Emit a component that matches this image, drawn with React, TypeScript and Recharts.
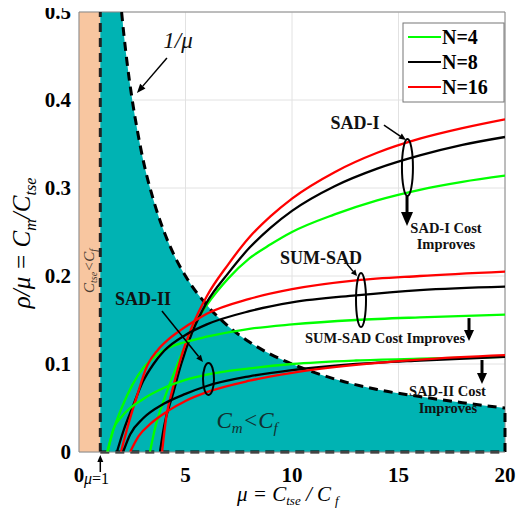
import {
  ComposedChart,
  Line,
  Area,
  XAxis,
  YAxis,
  CartesianGrid,
  ReferenceLine,
  ReferenceArea,
  ReferenceDot,
} from "recharts";

const SERIF = '"Liberation Serif", "Times New Roman", serif';
const TEAL = "#00B3B3";
const PEACH = "#F8C6A0";

// boundary of the C_m < C_f region (the 1/mu curve, clipped at the top)
const boundMu = [1, 2, 2.1, 2.25, 2.5, 2.75, 3, 3.5, 4, 4.5, 5, 6, 7, 8, 9, 10, 12, 14, 16, 18, 20];
const boundRho = [0.5, 0.5, 0.476, 0.444, 0.4, 0.364, 0.333, 0.286, 0.25, 0.222, 0.2, 0.167, 0.143, 0.125, 0.111, 0.1, 0.083, 0.071, 0.063, 0.056, 0.05];

// SAD-I
const sadIMu4 = [3.33, 3.6, 4.0, 4.5, 5, 5.5, 6, 7, 8, 9, 10, 12, 14, 16, 18, 20];
const sadIRho4 = [0, 0.03, 0.06, 0.092, 0.122, 0.148, 0.167, 0.197, 0.22, 0.236, 0.25, 0.27, 0.286, 0.298, 0.307, 0.314];
const sadIMu8 = [3.8, 4.0, 4.4, 4.8, 5.3, 6, 7, 8, 9, 10, 12, 14, 16, 18, 20];
const sadIRho8 = [0, 0.03, 0.065, 0.1, 0.135, 0.17, 0.203, 0.232, 0.255, 0.274, 0.302, 0.322, 0.337, 0.349, 0.358];
const sadIMu16 = [3.9, 4.1, 4.4, 4.8, 5.3, 6, 7, 8, 9, 10, 12, 14, 16, 18, 20];
const sadIRho16 = [0, 0.04, 0.072, 0.108, 0.142, 0.177, 0.213, 0.244, 0.268, 0.288, 0.318, 0.34, 0.356, 0.368, 0.378];

// SUM-SAD
const sumMu4 = [1.32, 1.6, 2, 2.5, 3, 3.5, 4, 5, 6, 8, 10, 13, 16, 20];
const sumRho4 = [0, 0.024, 0.05, 0.076, 0.095, 0.107, 0.116, 0.125, 0.131, 0.14, 0.145, 0.15, 0.153, 0.156];
const sumMu8 = [1.78, 2.1, 2.5, 3, 3.5, 4, 5, 6, 8, 10, 13, 16, 20];
const sumRho8 = [0, 0.025, 0.05, 0.08, 0.1, 0.115, 0.133, 0.145, 0.16, 0.17, 0.178, 0.184, 0.188];
const sumMu16 = [1.97, 2.3, 2.7, 3.2, 3.7, 4.2, 4.8, 5.5, 6, 8, 10, 13, 16, 20];
const sumRho16 = [0, 0.03, 0.062, 0.098, 0.116, 0.128, 0.139, 0.15, 0.157, 0.174, 0.185, 0.195, 0.2, 0.205];

// SAD-II
const sadIIMu4 = [1.35, 1.6, 2, 3, 4, 5, 6, 8, 10, 13, 16, 20];
const sadIIRho4 = [0, 0.025, 0.04, 0.06, 0.073, 0.082, 0.088, 0.095, 0.1, 0.104, 0.106, 0.108];
const sadIIMu8 = [2.07, 2.4, 3, 4, 5, 6, 8, 10, 13, 16, 20];
const sadIIRho8 = [0, 0.02, 0.038, 0.055, 0.066, 0.075, 0.086, 0.093, 0.1, 0.104, 0.108];
const sadIIMu16 = [2.4, 2.8, 3.4, 4.2, 5, 6, 8, 10, 13, 16, 20];
const sadIIRho16 = [0, 0.018, 0.033, 0.047, 0.058, 0.068, 0.081, 0.09, 0.099, 0.105, 0.11];

const xTicks = [0, 5, 10, 15, 20];
const yTicks = [0, 0.1, 0.2, 0.3, 0.4, 0.5];

const legendItems = [
  { name: "N=4", color: "#00FF00" },
  { name: "N=8", color: "#000000" },
  { name: "N=16", color: "#FF0000" },
];

const rows = (xs: number[], ys: number[]) => xs.map((x, i) => ({ x, y: ys[i] }));

const boundRows = rows(boundMu, boundRho);

const series = [
  { key: "sadI4", data: rows(sadIMu4, sadIRho4), color: legendItems[0].color },
  { key: "sadI8", data: rows(sadIMu8, sadIRho8), color: legendItems[1].color },
  { key: "sadI16", data: rows(sadIMu16, sadIRho16), color: legendItems[2].color },
  { key: "sum4", data: rows(sumMu4, sumRho4), color: legendItems[0].color },
  { key: "sum8", data: rows(sumMu8, sumRho8), color: legendItems[1].color },
  { key: "sum16", data: rows(sumMu16, sumRho16), color: legendItems[2].color },
  { key: "sadII4", data: rows(sadIIMu4, sadIIRho4), color: legendItems[0].color },
  { key: "sadII8", data: rows(sadIIMu8, sadIIRho8), color: legendItems[1].color },
  { key: "sadII16", data: rows(sadIIMu16, sadIIRho16), color: legendItems[2].color },
];

// annotation shapes, anchored at a data point
function label(text: string, size: number, extra: any = {}) {
  return (p: any) => (
    <text
      x={p.cx}
      y={p.cy}
      textAnchor="middle"
      dominantBaseline="central"
      fontFamily={SERIF}
      fontWeight="bold"
      fontSize={size}
      fill="#111"
      {...extra}
    >
      {text}
    </text>
  );
}

function ring(rx: number, ry: number) {
  return (p: any) => (
    <ellipse cx={p.cx} cy={p.cy} rx={rx} ry={ry} fill="none" stroke="#000" strokeWidth={2} />
  );
}

// tip at the anchor, tail offset by (dx, dy) pixels
function arrow(dx: number, dy: number, w: number, headLen: number, headW: number) {
  return (p: any) => {
    const len = Math.hypot(dx, dy);
    const ux = -dx / len;
    const uy = -dy / len;
    const bx = p.cx - ux * headLen;
    const by = p.cy - uy * headLen;
    const nx = -uy;
    const ny = ux;
    return (
      <g>
        <line x1={p.cx + dx} y1={p.cy + dy} x2={bx} y2={by} stroke="#000" strokeWidth={w} />
        <polygon
          points={`${p.cx},${p.cy} ${bx + nx * headW},${by + ny * headW} ${bx - nx * headW},${by - ny * headW}`}
          fill="#000"
        />
      </g>
    );
  };
}

const XTick = (props: any) => {
  const { x, y, payload } = props;
  if (payload.value === 0) {
    return (
      <g>
        <text x={x} y={y + 30} textAnchor="middle" fontFamily={SERIF} fontWeight="bold" fontSize={21}>
          0
        </text>
        <text x={x + 5} y={y + 32} fontFamily={SERIF} fontSize={16}>
          <tspan fontStyle="italic">μ</tspan>=1
        </text>
      </g>
    );
  }
  return (
    <text x={x} y={y + 30} textAnchor="middle" fontFamily={SERIF} fontWeight="bold" fontSize={21}>
      {payload.value}
    </text>
  );
};

const YTick = (props: any) => {
  const { x, y, payload } = props;
  return (
    <text x={x - 8} y={y + 7} textAnchor="end" fontFamily={SERIF} fontWeight="bold" fontSize={21}>
      {payload.value === 0 ? "0" : payload.value.toFixed(1)}
    </text>
  );
};

const dash = "9 6";

export default function App() {
  return (
    <div style={{ position: "relative", width: 530, height: 510, margin: "-8px 0 0 -8px" }}>
      <ComposedChart width={530} height={510} margin={{ top: 12, right: 25, bottom: 28, left: 19 }}>
        <CartesianGrid stroke="#e2e2e2" />
        <XAxis
          dataKey="x"
          type="number"
          domain={[0, 20]}
          ticks={xTicks}
          allowDataOverflow
          tickLine={false}
          tickSize={0}
          tickMargin={0}
          height={30}
          axisLine={{ stroke: "#888" }}
          tick={<XTick />}
        />
        <YAxis
          type="number"
          domain={[0, 0.5]}
          ticks={yTicks}
          allowDataOverflow
          tickLine={false}
          tickSize={0}
          tickMargin={0}
          width={60}
          axisLine={{ stroke: "#888" }}
          tick={<YTick />}
        />
        <ReferenceArea x1={0} x2={1} y1={0} y2={0.5} fill={PEACH} fillOpacity={1} stroke="none" />
        <Area
          data={boundRows}
          dataKey="y"
          type="monotone"
          fill={TEAL}
          fillOpacity={1}
          stroke="none"
          baseValue={0}
          isAnimationActive={false}
        />
        <ReferenceLine y={0.5} stroke="#888" />
        <ReferenceLine x={20} stroke="#888" />
        <Line
          data={boundRows.slice(1)}
          dataKey="y"
          type="monotone"
          stroke="#000"
          strokeWidth={3}
          strokeDasharray={dash}
          dot={false}
          isAnimationActive={false}
        />
        <ReferenceLine segment={[{ x: 1, y: 0 }, { x: 1, y: 0.5 }]} stroke="#222" strokeWidth={3} strokeDasharray={dash} />
        <ReferenceLine segment={[{ x: 1, y: 0 }, { x: 20, y: 0 }]} stroke="#000" strokeWidth={3} strokeDasharray={dash} />
        <ReferenceLine segment={[{ x: 20, y: 0 }, { x: 20, y: 0.05 }]} stroke="#000" strokeWidth={3} strokeDasharray={dash} />
        {series.map((s) => (
          <Line
            key={s.key}
            data={s.data}
            dataKey="y"
            type="monotone"
            stroke={s.color}
            strokeWidth={2.3}
            dot={false}
            isAnimationActive={false}
          />
        ))}

        {/* 1/mu */}
        <ReferenceDot x={4.65} y={0.468} shape={label("1/μ", 23, { fontWeight: "normal", fontStyle: "italic" })} />
        <ReferenceDot x={2.72} y={0.408} shape={arrow(30, -35, 1.5, 9, 3.5)} />

        {/* SAD-I */}
        <ReferenceDot x={12.96} y={0.374} shape={label("SAD-I", 18)} />
        <ReferenceDot x={15.35} y={0.3545} shape={arrow(-22, -15, 1.5, 7, 3)} />
        <ReferenceDot x={15.42} y={0.3233} shape={ring(5.5, 28.5)} />
        <ReferenceDot x={15.4} y={0.2568} shape={arrow(0, -30, 3, 14, 6)} />
        <ReferenceDot x={17.23} y={0.2551} shape={label("SAD-I Cost", 14.5)} />
        <ReferenceDot x={17.23} y={0.2364} shape={label("Improves", 14.5)} />

        {/* SUM-SAD */}
        <ReferenceDot x={11.36} y={0.221} shape={label("SUM-SAD", 18)} />
        <ReferenceDot x={13.05} y={0.2} shape={arrow(-10, -12, 1.5, 6, 3)} />
        <ReferenceDot x={13.24} y={0.1727} shape={ring(5, 27)} />
        <ReferenceDot x={14.37} y={0.13} shape={label("SUM-SAD Cost Improves", 14.5)} />
        <ReferenceDot x={18.31} y={0.126} shape={arrow(0, -23, 3, 11, 5)} />

        {/* SAD-II */}
        <ReferenceDot x={3.0} y={0.1744} shape={label("SAD-II", 18)} />
        <ReferenceDot x={5.82} y={0.1023} shape={arrow(-41, -51, 1.5, 7, 3)} />
        <ReferenceDot x={6.08} y={0.083} shape={ring(5.5, 16)} />
        <ReferenceDot x={17.3} y={0.0693} shape={label("SAD-II Cost", 14.5)} />
        <ReferenceDot x={17.32} y={0.05} shape={label("Improves", 14.5)} />
        <ReferenceDot x={18.92} y={0.0773} shape={arrow(0, -24, 3, 11, 5)} />

        {/* region labels */}
        <ReferenceDot
          x={7.89}
          y={0.0352}
          shape={(p: any) => (
            <text x={p.cx} y={p.cy + 7} textAnchor="middle" fontFamily={SERIF} fontStyle="italic" fontSize={23} fill="#12302f">
              C<tspan dy={5} fontSize={15}>m</tspan>
              <tspan dy={-5}>&lt;C</tspan>
              <tspan dy={5} fontSize={15}>f</tspan>
            </text>
          )}
        />
        <ReferenceDot
          x={0.47}
          y={0.2057}
          shape={(p: any) => (
            <text
              transform={`translate(${p.cx + 5},${p.cy}) rotate(-90)`}
              textAnchor="middle"
              fontFamily={SERIF}
              fontStyle="italic"
              fontSize={15}
              fill="#4a3b30"
            >
              C<tspan dy={3} fontSize={10}>tse</tspan>
              <tspan dy={-3}>&lt;C</tspan>
              <tspan dy={3} fontSize={10}>f</tspan>
            </text>
          )}
        />
        {/* mu = 1 pointer */}
        <ReferenceDot x={1} y={0} shape={(p: any) => arrow(0, 17, 1.5, 7, 3)({ cx: p.cx, cy: p.cy + 3 })} />
      </ComposedChart>

      <svg width={530} height={510} style={{ position: "absolute", left: 0, top: 0, pointerEvents: "none" }}>
        {/* axis titles */}
        <text x={237} y={501} fontFamily={SERIF} fontStyle="italic" fontSize={21}>
          μ = C<tspan dy={4} fontSize={13}>tse</tspan>
          <tspan dy={-4}> / C</tspan>
          <tspan dy={4} dx={4} fontSize={13}>f</tspan>
        </text>
        <text
          transform="translate(30,243) rotate(-90)"
          textAnchor="middle"
          fontFamily={SERIF}
          fontStyle="italic"
          fontSize={25}
        >
          ρ/μ = C<tspan dy={6} fontSize={16}>m</tspan>
          <tspan dy={-6}>/C</tspan>
          <tspan dy={6} fontSize={16}>tse</tspan>
        </text>

        {/* legend */}
        <rect x={403} y={23} width={101} height={79} fill="#fff" stroke="#777" strokeWidth={1} />
        {legendItems.map((it, i) => (
          <g key={it.name}>
            <line x1={408} x2={441} y1={37 + i * 25} y2={37 + i * 25} stroke={it.color} strokeWidth={2.2} />
            <text x={442} y={44 + i * 25} fontFamily={SERIF} fontWeight="bold" fontSize={20}>
              {it.name}
            </text>
          </g>
        ))}
      </svg>
    </div>
  );
}
